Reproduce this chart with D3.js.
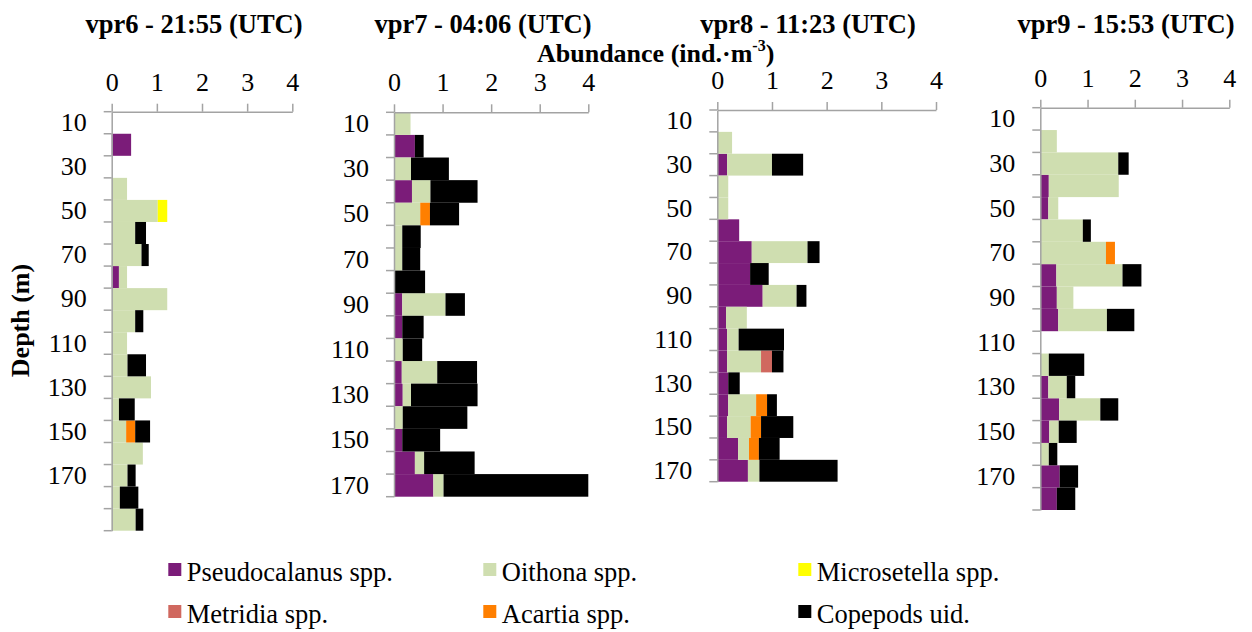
<!DOCTYPE html>
<html>
<head>
<meta charset="utf-8">
<script src="https://cdn.jsdelivr.net/npm/d3@7"></script>
<style>
  body { margin: 0; background: #fff; }
  svg { display: block; }
  svg text { font-family: "Liberation Serif", "DejaVu Serif", serif !important; fill: #000; }
</style>
</head>
<body>
<svg id="chart" width="1252" height="632"></svg>
<script>
// Copepod taxa, stacked left to right in this order
const species = ["Pseudocalanus spp.", "Oithona spp.", "Microsetella spp.", "Metridia spp.", "Acartia spp.", "Copepods uid."];
const speciesColors = ["#7B1C79", "#CFDEB0", "#FFFF00", "#D0685F", "#FF7F00", "#000000"];
const valueTicks = [0, 1, 2, 3, 4];
const depthLabels = [10, 30, 50, 70, 90, 110, 130, 150, 170];

// vpr6 - 21:55 (UTC)
const vpr6Depths     = [10, 20, 30, 40, 50, 60, 70, 80, 90, 100, 110, 120, 130, 140, 150, 160, 170, 180, 190];
const vpr6Pseudo     = [0, 0.43, 0, 0, 0, 0, 0, 0.16, 0, 0, 0, 0, 0, 0, 0, 0, 0, 0, 0];
const vpr6Oithona    = [0, 0, 0, 0.34, 1.02, 0.52, 0.66, 0.18, 1.23, 0.52, 0.34, 0.35, 0.87, 0.16, 0.32, 0.69, 0.35, 0.18, 0.53];
const vpr6Micro      = [0, 0, 0, 0, 0.21, 0, 0, 0, 0, 0, 0, 0, 0, 0, 0, 0, 0, 0, 0];
const vpr6Metridia   = [0, 0, 0, 0, 0, 0, 0, 0, 0, 0, 0, 0, 0, 0, 0, 0, 0, 0, 0];
const vpr6Acartia    = [0, 0, 0, 0, 0, 0, 0, 0, 0, 0, 0, 0, 0, 0, 0.20, 0, 0, 0, 0];
const vpr6Copepods   = [0, 0, 0, 0, 0, 0.24, 0.16, 0, 0, 0.18, 0, 0.41, 0, 0.35, 0.33, 0, 0.18, 0.41, 0.17];

// vpr7 - 04:06 (UTC)
const vpr7Depths     = [10, 20, 30, 40, 50, 60, 70, 80, 90, 100, 110, 120, 130, 140, 150, 160, 170];
const vpr7Pseudo     = [0, 0.43, 0, 0.37, 0, 0, 0, 0, 0.17, 0.17, 0, 0.16, 0.18, 0, 0.17, 0.43, 0.81];
const vpr7Oithona    = [0.34, 0, 0.35, 0.38, 0.54, 0.17, 0.17, 0, 0.89, 0, 0.18, 0.73, 0.17, 0.18, 0, 0.19, 0.21];
const vpr7Micro      = [0, 0, 0, 0, 0, 0, 0, 0, 0, 0, 0, 0, 0, 0, 0, 0, 0];
const vpr7Metridia   = [0, 0, 0, 0, 0, 0, 0, 0, 0, 0, 0, 0, 0, 0, 0, 0, 0];
const vpr7Acartia    = [0, 0, 0, 0, 0.20, 0, 0, 0, 0, 0, 0, 0, 0, 0, 0, 0, 0];
const vpr7Copepods   = [0, 0.18, 0.78, 0.97, 0.60, 0.38, 0.37, 0.64, 0.40, 0.44, 0.40, 0.82, 1.37, 1.33, 0.78, 1.04, 2.98];

// vpr8 - 11:23 (UTC)
const vpr8Depths     = [10, 20, 30, 40, 50, 60, 70, 80, 90, 100, 110, 120, 130, 140, 150, 160, 170];
const vpr8Pseudo     = [0, 0, 0.18, 0, 0, 0.40, 0.63, 0.60, 0.83, 0.16, 0.18, 0.18, 0.20, 0.20, 0.18, 0.38, 0.56];
const vpr8Oithona    = [0, 0.27, 0.82, 0.20, 0.20, 0, 1.02, 0, 0.62, 0.38, 0.21, 0.62, 0, 0.51, 0.43, 0.20, 0.21];
const vpr8Micro      = [0, 0, 0, 0, 0, 0, 0, 0, 0, 0, 0, 0, 0, 0, 0, 0, 0];
const vpr8Metridia   = [0, 0, 0, 0, 0, 0, 0, 0, 0, 0, 0, 0.20, 0, 0, 0, 0, 0];
const vpr8Acartia    = [0, 0, 0, 0, 0, 0, 0, 0, 0, 0, 0, 0, 0, 0.20, 0.19, 0.18, 0];
const vpr8Copepods   = [0, 0, 0.57, 0, 0, 0, 0.22, 0.34, 0.18, 0, 0.83, 0.21, 0.21, 0.18, 0.59, 0.38, 1.43];

// vpr9 - 15:53 (UTC)
const vpr9Depths     = [10, 20, 30, 40, 50, 60, 70, 80, 90, 100, 110, 120, 130, 140, 150, 160, 170, 180];
const vpr9Pseudo     = [0, 0, 0, 0.18, 0.17, 0, 0, 0.34, 0.35, 0.38, 0, 0, 0.17, 0.40, 0.19, 0, 0.41, 0.35];
const vpr9Oithona    = [0, 0.35, 1.65, 1.48, 0.21, 0.90, 1.39, 1.40, 0.35, 1.03, 0, 0.18, 0.39, 0.87, 0.20, 0.18, 0, 0];
const vpr9Micro      = [0, 0, 0, 0, 0, 0, 0, 0, 0, 0, 0, 0, 0, 0, 0, 0, 0, 0];
const vpr9Metridia   = [0, 0, 0, 0, 0, 0, 0, 0, 0, 0, 0, 0, 0, 0, 0, 0, 0, 0];
const vpr9Acartia    = [0, 0, 0, 0, 0, 0, 0.19, 0, 0, 0, 0, 0, 0, 0, 0, 0, 0, 0];
const vpr9Copepods   = [0, 0, 0.22, 0, 0, 0.17, 0, 0.40, 0, 0.58, 0, 0.75, 0.18, 0.38, 0.38, 0.18, 0.39, 0.39];

const casts = [
  { title: "vpr6 - 21:55 (UTC)", depths: vpr6Depths, series: [vpr6Pseudo, vpr6Oithona, vpr6Micro, vpr6Metridia, vpr6Acartia, vpr6Copepods] },
  { title: "vpr7 - 04:06 (UTC)", depths: vpr7Depths, series: [vpr7Pseudo, vpr7Oithona, vpr7Micro, vpr7Metridia, vpr7Acartia, vpr7Copepods] },
  { title: "vpr8 - 11:23 (UTC)", depths: vpr8Depths, series: [vpr8Pseudo, vpr8Oithona, vpr8Micro, vpr8Metridia, vpr8Acartia, vpr8Copepods] },
  { title: "vpr9 - 15:53 (UTC)", depths: vpr9Depths, series: [vpr9Pseudo, vpr9Oithona, vpr9Micro, vpr9Metridia, vpr9Acartia, vpr9Copepods] }
];

// Plot frames for each profile panel
const frames = [
  { x0: 111.7, x1: 292.3, y0: 111.7, y1: 530.7, titleX: 194 },
  { x0: 394.0, x1: 588.3, y0: 112.3, y1: 496.7, titleX: 483 },
  { x0: 717.3, x1: 936.0, y0: 110.0, y1: 481.7, titleX: 808 },
  { x0: 1040.3, x1: 1229.3, y0: 107.7, y1: 510.0, titleX: 1126 }
];

const FONT = '"Liberation Serif", "DejaVu Serif", serif';
const axisColor = "#A3A3A3";
const svg = d3.select("#chart");
svg.append("rect").attr("width", 1252).attr("height", 632).attr("fill", "#fff");

const color = d3.scaleOrdinal().domain(species).range(speciesColors);

casts.forEach((cast, i) => {
  const f = frames[i];
  const x = d3.scaleLinear().domain([0, 4]).range([f.x0, f.x1]);
  const y = d3.scaleBand().domain(cast.depths).range([f.y0, f.y1]).padding(0);

  const rows = cast.depths.map((d, j) => {
    const r = { depth: d };
    species.forEach((s, k) => { r[s] = cast.series[k][j]; });
    return r;
  });
  const stacked = d3.stack().keys(species)(rows);

  const g = svg.append("g");

  // stacked bars
  g.selectAll("g.layer")
    .data(stacked)
    .join("g")
    .attr("class", "layer")
    .attr("fill", s => color(s.key))
    .selectAll("rect")
    .data(s => s.filter(d => d[1] - d[0] > 0))
    .join("rect")
    .attr("x", d => x(d[0]))
    .attr("width", d => x(d[1]) - x(d[0]))
    .attr("y", d => y(d.data.depth))
    .attr("height", y.bandwidth());

  // value axis along the top
  const top = g.append("g")
    .attr("transform", `translate(0,${f.y0})`)
    .call(d3.axisTop(x).tickValues(valueTicks).tickFormat(d3.format("d")).tickSize(8).tickPadding(13).tickSizeOuter(0))
    .attr("font-family", FONT).attr("font-size", 26);
  top.select(".domain").attr("stroke", axisColor).attr("stroke-width", 1.5);
  top.selectAll(".tick line").attr("stroke", axisColor).attr("stroke-width", 1.5);
  top.selectAll(".tick text").attr("fill", "#000");

  // depth labels on every other bin
  const left = g.append("g")
    .attr("transform", `translate(${f.x0},0)`)
    .call(d3.axisLeft(y).tickValues(depthLabels.filter(d => cast.depths.includes(d))).tickSize(0).tickPadding(25))
    .attr("font-family", FONT).attr("font-size", 26);
  left.select(".domain").attr("stroke", axisColor).attr("stroke-width", 1.5);
  left.selectAll(".tick text").attr("fill", "#000");

  // tick marks on bin boundaries
  const bounds = cast.depths.map(d => y(d)).concat([y(cast.depths[cast.depths.length - 1]) + y.bandwidth()]);
  g.append("g")
    .selectAll("line")
    .data(bounds)
    .join("line")
    .attr("x1", f.x0 - 8)
    .attr("x2", f.x0)
    .attr("y1", d => d)
    .attr("y2", d => d)
    .attr("stroke", axisColor)
    .attr("stroke-width", 1.5);

  // panel title
  svg.append("text")
    .attr("x", f.titleX)
    .attr("y", 33)
    .attr("text-anchor", "middle")
    .attr("font-family", FONT)
    .attr("font-weight", "bold")
    .attr("font-size", 26.5)
    .text(cast.title);
});

// shared axis titles
const abund = svg.append("text")
  .attr("x", 537)
  .attr("y", 62)
  .attr("font-family", FONT)
  .attr("font-weight", "bold")
  .attr("font-size", 26);
abund.append("tspan").text("Abundance (ind.\u00B7m");
abund.append("tspan").attr("font-size", 16).attr("dy", -11).text("-3");
abund.append("tspan").attr("dy", 11).text(")");

svg.append("text")
  .attr("transform", "translate(29,320.5) rotate(-90)")
  .attr("text-anchor", "middle")
  .attr("font-family", FONT)
  .attr("font-weight", "bold")
  .attr("font-size", 26)
  .text("Depth (m)");

// legend: three columns, two rows
const legendCols = [168.3, 483.3, 798.3];
const legendRows = [563, 605];
const legend = svg.append("g")
  .selectAll("g")
  .data(species)
  .join("g")
  .attr("transform", (d, k) => `translate(${legendCols[k % 3]},${legendRows[Math.floor(k / 3)]})`);
legend.append("rect")
  .attr("width", 13)
  .attr("height", 13)
  .attr("fill", d => color(d));
legend.append("text")
  .attr("x", 18.5)
  .attr("y", 18)
  .attr("font-family", FONT)
  .attr("font-size", 26.5)
  .text(d => d);
</script>
</body>
</html>
